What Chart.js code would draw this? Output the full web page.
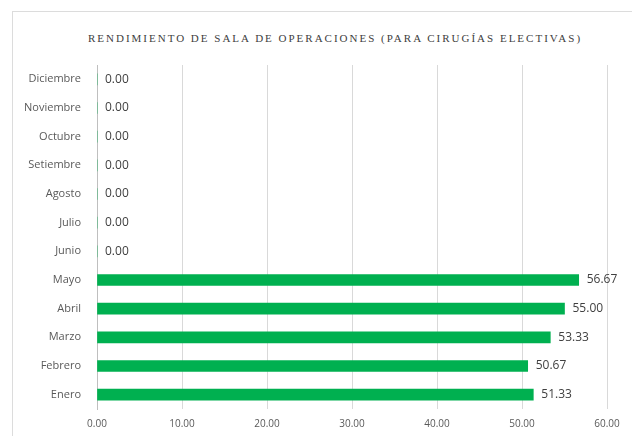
<!DOCTYPE html>
<html>
<head>
<meta charset="utf-8">
<script src="https://cdn.jsdelivr.net/npm/chart.js@4"></script>
<style>
  html, body { margin: 0; padding: 0; background: #fff; }
  #wrap { position: relative; width: 632px; height: 436px; }
  #card { position: absolute; left: 12px; top: 11px; right: -2px; bottom: -2px; border: 1px solid #dcdcdc; }
  #title { position: absolute; left: 0; width: 670px; top: 32px; text-align: center;
    font-family: "Liberation Serif", serif; font-size: 11px; letter-spacing: 2px; color: #404040; }
  canvas { position: absolute; left: 0; top: 0; }
</style>
</head>
<body>
<div id="wrap">
  <div id="card"></div>
  <div id="title">RENDIMIENTO DE SALA DE OPERACIONES (PARA CIRUGÍAS ELECTIVAS)</div>
  <canvas id="chart" width="632" height="436"></canvas>
</div>
<script>
const months = ['Diciembre', 'Noviembre', 'Octubre', 'Setiembre', 'Agosto', 'Julio', 'Junio', 'Mayo', 'Abril', 'Marzo', 'Febrero', 'Enero'];
const rendimiento = [0, 0, 0, 0, 0, 0, 0, 56.67, 55.00, 53.33, 50.67, 51.33];
const xTicks = [0, 10, 20, 30, 40, 50, 60];

// draws the value next to each bar
const valueLabels = {
  id: 'valueLabels',
  afterDatasetsDraw(chart) {
    const ctx = chart.ctx;
    const meta = chart.getDatasetMeta(0);
    ctx.save();
    ctx.font = '12px "Open Sans", sans-serif';
    ctx.fillStyle = '#404040';
    ctx.textAlign = 'left';
    ctx.textBaseline = 'middle';
    meta.data.forEach((bar, i) => {
      ctx.fillText(rendimiento[i].toFixed(2), bar.x + 8, bar.y);
    });
    ctx.restore();
  }
};

new Chart(document.getElementById('chart'), {
  type: 'bar',
  data: {
    labels: months,
    datasets: [{
      data: rendimiento,
      backgroundColor: '#00b050',
      barThickness: 11
    }]
  },
  options: {
    indexAxis: 'y',
    responsive: false,
    animation: false,
    layout: { padding: { left: 14, right: 25, top: 65, bottom: 0 } },
    plugins: { legend: { display: false }, tooltip: { enabled: false } },
    scales: {
      x: {
        min: xTicks[0],
        max: xTicks[xTicks.length - 1],
        afterBuildTicks: (scale) => { scale.ticks = xTicks.map(v => ({ value: v })); },
        afterFit: (scale) => { scale.height = 27; },
        ticks: {
          callback: (v) => Number(v).toFixed(2),
          font: { family: '"Open Sans", sans-serif', size: 10 },
          color: '#595959',
          padding: 9,
          maxRotation: 0
        },
        grid: { color: '#d9d9d9', drawTicks: false },
        border: { display: false }
      },
      y: {
        afterFit: (scale) => { scale.width = 83; },
        ticks: {
          font: { family: '"Open Sans", sans-serif', size: 11 },
          color: '#595959',
          padding: 8
        },
        grid: { display: false },
        border: { display: true, color: '#bfbfbf', width: 1 }
      }
    }
  },
  plugins: [valueLabels]
});
</script>
</body>
</html>
